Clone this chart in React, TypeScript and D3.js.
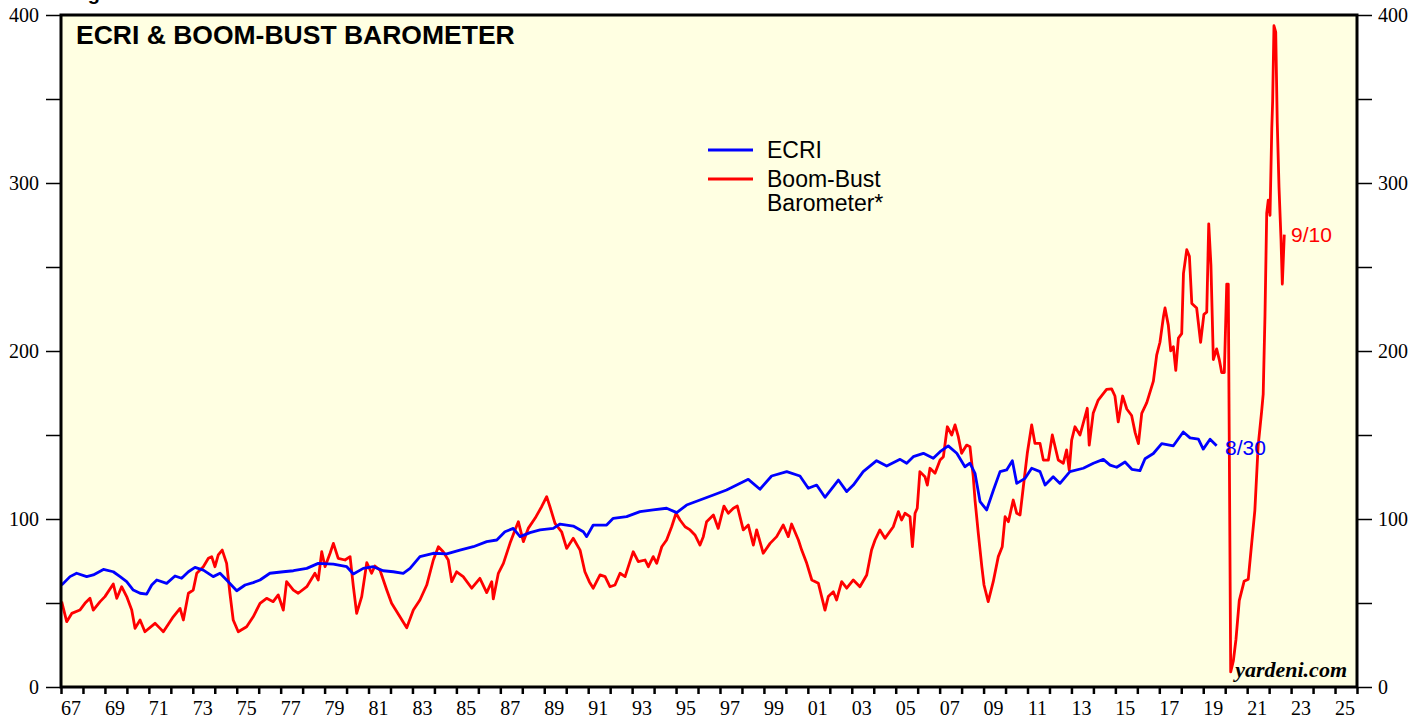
import React, { useRef, useEffect } from 'react';
import * as d3 from 'd3';

// ECRI weekly leading index, [year, value]
const ecri: [number, number][] = [
  [1967.03, 60.7], [1967.41, 65.7], [1967.71, 67.7], [1968.17, 65.7], [1968.47, 66.7], [1968.93, 70],
  [1969.38, 68.6], [1969.69, 65.7], [1969.99, 62.7], [1970.29, 57.7], [1970.6, 55.8], [1970.9, 55.3],
  [1971.13, 60.7], [1971.36, 63.7], [1971.81, 61.7], [1972.19, 66.1], [1972.49, 64.7], [1972.8, 68.6],
  [1973.1, 71.2], [1973.48, 69.6], [1973.93, 65.7], [1974.24, 67.7], [1974.54, 63.7], [1975.0, 57.3],
  [1975.38, 60.7], [1975.75, 62.1], [1976.06, 63.7], [1976.51, 67.7], [1977.12, 68.6], [1977.58, 69.2],
  [1978.19, 70.6], [1978.71, 73.6], [1979.4, 73.2], [1980.01, 71.6], [1980.31, 67.3], [1980.76, 70.6],
  [1981.22, 71.6], [1981.67, 69.2], [1982.13, 68.6], [1982.58, 67.7], [1982.89, 70.6], [1983.34, 77.6],
  [1983.95, 79.6], [1984.56, 79.2], [1985.16, 81.5], [1985.77, 83.5], [1986.38, 86.5], [1986.84, 87.5],
  [1987.21, 92.4], [1987.59, 94.4], [1987.9, 89.5], [1988.35, 91.9], [1988.81, 93.5], [1989.41, 94.4],
  [1989.72, 97], [1990.32, 95.8], [1990.78, 92.4], [1990.93, 89.5], [1991.23, 96.4], [1991.84, 96.4],
  [1992.14, 100.4], [1992.75, 101.4], [1993.36, 104.4], [1993.96, 105.4], [1994.57, 106.4], [1995.03, 103.8],
  [1995.48, 108.3], [1996.09, 111.3], [1996.7, 114.3], [1997.3, 117.3], [1997.76, 120.2], [1998.29, 123.6],
  [1998.82, 117.7], [1999.35, 125.6], [2000.04, 128.2], [2000.64, 125.6], [2001.02, 118.3], [2001.4, 120.2],
  [2001.78, 112.9], [2002.39, 123.2], [2002.77, 116.3], [2003.07, 120.2], [2003.52, 128.2], [2004.13, 134.7],
  [2004.59, 131.5], [2005.2, 135.5], [2005.5, 133.2], [2005.8, 137.1], [2006.26, 139.1], [2006.71, 136.1],
  [2007.02, 140.1], [2007.39, 143.5], [2007.78, 139.1], [2008.15, 131.1], [2008.38, 133.2], [2008.61, 127.2],
  [2008.84, 110.3], [2009.14, 105.4], [2009.45, 117.3], [2009.75, 128.2], [2010.05, 129.2], [2010.31, 134.7],
  [2010.51, 121.2], [2010.89, 124.2], [2011.19, 130.2], [2011.57, 128.2], [2011.8, 120.2], [2012.17, 125.2],
  [2012.48, 121.2], [2012.93, 128.2], [2013.54, 130.2], [2014.0, 133.2], [2014.45, 135.5], [2014.76, 132.1],
  [2015.06, 130.8], [2015.44, 133.9], [2015.75, 129.6], [2016.12, 128.8], [2016.35, 135.9], [2016.73, 139],
  [2017.11, 144.9], [2017.64, 143.6], [2018.09, 151.8], [2018.4, 148.3], [2018.78, 147.5], [2019.0, 141.6],
  [2019.31, 147.5], [2019.61, 143.6],
];

// Boom-Bust Barometer, [year, value]
const bbb: [number, number][] = [
  [1967.03, 50.8], [1967.26, 38.9], [1967.49, 43.8], [1967.86, 45.8], [1968.09, 49.8], [1968.32, 52.8],
  [1968.47, 45.8], [1968.78, 50.8], [1969.0, 53.8], [1969.38, 61.3], [1969.54, 52.8], [1969.76, 59.7],
  [1969.99, 53.8], [1970.22, 45.8], [1970.37, 34.9], [1970.6, 39.9], [1970.82, 32.9], [1971.28, 37.9],
  [1971.51, 34.9], [1971.66, 32.9], [1972.11, 41.8], [1972.42, 46.8], [1972.57, 39.9], [1972.8, 55.8],
  [1973.02, 57.7], [1973.18, 67.7], [1973.48, 71.6], [1973.71, 76.6], [1973.86, 77.6], [1974.01, 71.6],
  [1974.16, 78.6], [1974.34, 81.5], [1974.54, 73.6], [1974.69, 55.8], [1974.84, 39.9], [1975.07, 32.9],
  [1975.45, 35.9], [1975.75, 41.8], [1976.06, 49.8], [1976.36, 52.8], [1976.66, 50.8], [1976.89, 54.8],
  [1977.12, 45.8], [1977.27, 62.7], [1977.58, 57.7], [1977.8, 55.8], [1978.19, 59.7], [1978.56, 67.7],
  [1978.71, 63.7], [1978.87, 80.5], [1979.02, 71.6], [1979.25, 79.6], [1979.4, 85.5], [1979.62, 76.6],
  [1979.93, 75.6], [1980.16, 77.6], [1980.31, 59.7], [1980.46, 43.8], [1980.69, 53.8], [1980.92, 74],
  [1981.14, 67.7], [1981.29, 72], [1981.52, 69.6], [1981.83, 57.7], [1982.05, 49.8], [1982.43, 41.8],
  [1982.74, 35.3], [1983.04, 45.8], [1983.34, 51.8], [1983.65, 60.7], [1983.95, 75.6], [1984.18, 83.5],
  [1984.4, 80.5], [1984.63, 75.6], [1984.79, 62.7], [1985.01, 68.6], [1985.31, 65.7], [1985.7, 58.8],
  [1986.07, 64.7], [1986.38, 56.2], [1986.61, 62.7], [1986.68, 52.4], [1986.91, 67.7], [1987.14, 73.6],
  [1987.44, 85.5], [1987.67, 93.5], [1987.82, 98.4], [1988.05, 86.5], [1988.27, 94.4], [1988.58, 100.4],
  [1988.88, 107.3], [1989.11, 113.3], [1989.26, 107.3], [1989.49, 97.4], [1989.79, 92.4], [1990.02, 82.5],
  [1990.32, 88.5], [1990.63, 81.5], [1990.85, 68.6], [1991.05, 62.7], [1991.23, 58.8], [1991.54, 66.7],
  [1991.77, 65.7], [1991.99, 59.7], [1992.22, 60.7], [1992.45, 67.7], [1992.68, 65.7], [1992.9, 74.6],
  [1993.05, 80.5], [1993.28, 74.6], [1993.59, 75.6], [1993.74, 71.6], [1993.96, 77.6], [1994.12, 73.6],
  [1994.35, 83.5], [1994.57, 87.5], [1994.8, 95.4], [1995.0, 103.4], [1995.18, 99.4], [1995.41, 95.4],
  [1995.64, 93.5], [1995.86, 90.5], [1996.09, 84.5], [1996.24, 89.5], [1996.39, 98.4], [1996.7, 102.4],
  [1996.92, 94.4], [1997.18, 107.7], [1997.38, 103.4], [1997.61, 106.4], [1997.79, 107.7], [1998.06, 93.5],
  [1998.29, 96.4], [1998.52, 84.5], [1998.67, 93.5], [1998.97, 79.6], [1999.28, 85.5], [1999.58, 89.5],
  [1999.88, 96.4], [2000.11, 89.5], [2000.26, 97], [2000.57, 87.5], [2000.72, 81.5], [2000.95, 73.6],
  [2001.18, 63.7], [2001.48, 61.7], [2001.78, 45.8], [2001.93, 53.8], [2002.16, 56.7], [2002.31, 51.8],
  [2002.54, 62.7], [2002.77, 58.8], [2003.07, 63.7], [2003.37, 59.7], [2003.68, 66.7], [2003.9, 81.5],
  [2004.06, 87.5], [2004.28, 93.5], [2004.51, 88.5], [2004.89, 95.4], [2005.12, 104.4], [2005.27, 99.4],
  [2005.42, 103.4], [2005.65, 101.4], [2005.76, 83.5], [2005.88, 103.4], [2005.98, 106.4], [2006.1, 128.2],
  [2006.33, 125.2], [2006.44, 120.2], [2006.56, 130.2], [2006.79, 127.2], [2007.02, 135.1], [2007.17, 137.1],
  [2007.35, 154.9], [2007.55, 150], [2007.7, 156], [2007.85, 149], [2008.0, 139.1], [2008.23, 144],
  [2008.38, 143], [2008.53, 125.2], [2008.61, 111.3], [2008.76, 91.5], [2008.92, 71.6], [2009.02, 60.7],
  [2009.21, 50.8], [2009.44, 62.7], [2009.67, 77.6], [2009.85, 83.5], [2009.98, 101.4], [2010.13, 98.4],
  [2010.35, 111.3], [2010.51, 103.4], [2010.66, 102.4], [2010.81, 119.2], [2010.99, 139.1], [2011.19, 156],
  [2011.34, 145], [2011.57, 145], [2011.72, 135.1], [2011.95, 135.1], [2012.13, 150], [2012.4, 135.1],
  [2012.63, 133.2], [2012.78, 141.1], [2012.9, 129.2], [2013.01, 147], [2013.16, 154.9], [2013.39, 150],
  [2013.72, 165.9], [2013.81, 144], [2013.99, 162.9], [2014.22, 170.8], [2014.6, 177.2], [2014.83, 177.5],
  [2014.98, 173.2], [2015.13, 157.8], [2015.33, 173.2], [2015.52, 165.5], [2015.74, 161.6], [2015.9, 151.4],
  [2016.05, 144.9], [2016.2, 162.9], [2016.43, 169.3], [2016.58, 175.7], [2016.73, 182.1], [2016.88, 197.5],
  [2017.03, 205.2], [2017.19, 220.5], [2017.26, 225.6], [2017.41, 215.4], [2017.52, 200.1], [2017.64, 202.6],
  [2017.75, 188.5], [2017.87, 207.7], [2018.02, 210.3], [2018.1, 246.2], [2018.25, 260.3], [2018.37, 256.4],
  [2018.48, 228.3], [2018.7, 225.6], [2018.88, 205.2], [2019.03, 221.8], [2019.16, 223.1], [2019.25, 275.7],
  [2019.35, 251.3], [2019.46, 194.9], [2019.61, 201.3], [2019.73, 194.9], [2019.84, 187.2], [2019.96, 187.2],
  [2020.07, 239.8], [2020.14, 239.8], [2020.25, 9], [2020.37, 15.5], [2020.49, 28.3], [2020.64, 51.4],
  [2020.86, 62.9], [2021.05, 64.2], [2021.2, 84.7], [2021.35, 105.2], [2021.5, 143.6], [2021.66, 164.2],
  [2021.73, 174.4], [2021.81, 220.5], [2021.89, 282.1], [2021.96, 289.8], [2022.04, 280.8], [2022.12, 332.1],
  [2022.16, 348.8], [2022.22, 393.6], [2022.3, 389.8], [2022.37, 335.9], [2022.45, 297.4], [2022.54, 266.7],
  [2022.6, 239.8], [2022.69, 269.3],
];

const yTicks = [0, 50, 100, 150, 200, 250, 300, 350, 400];
const yLabels = [0, 100, 200, 300, 400];
const yearTicks = d3.range(1967, 2027);
const yearLabels = d3.range(1967, 2026, 2);

const W = 1427, H = 721;
const left = 61, right = 1357, top = 15, bottom = 687;

const serif = '"Liberation Serif", "Times New Roman", serif';
const sans = '"Liberation Sans", Arial, sans-serif';

const App = () => {
  const ref = useRef<SVGSVGElement>(null);

  useEffect(() => {
    const svg = d3.select(ref.current);
    svg.selectAll('*').remove();

    const x = d3.scaleLinear().domain([1967, 2026]).range([left, right]);
    const y = d3.scaleLinear().domain([0, 400]).range([bottom, top]);

    // plot background
    svg.append('rect')
      .attr('x', left).attr('y', top)
      .attr('width', right - left).attr('height', bottom - top)
      .attr('fill', '#ffffe2');

    // heading above the frame, only its descender shows
    svg.append('text')
      .attr('x', 70).attr('y', 0)
      .attr('font-family', sans).attr('font-weight', 'bold').attr('font-size', 20)
      .text('Fig');

    const lab = (d: d3.NumberValue) => (yLabels.includes(+d) ? String(d) : '');

    const la = svg.append('g').attr('transform', `translate(${left},0)`)
      .call(d3.axisLeft(y).tickValues(yTicks).tickSize(15).tickPadding(7).tickFormat(lab));
    const ra = svg.append('g').attr('transform', `translate(${right},0)`)
      .call(d3.axisRight(y).tickValues(yTicks).tickSize(15).tickPadding(6).tickFormat(lab));
    [la, ra].forEach(g => {
      g.select('.domain').remove();
      g.selectAll('line').attr('stroke', '#000').attr('stroke-width', 1.5);
      g.selectAll('text').attr('font-family', serif).attr('font-size', 20).attr('fill', '#000');
    });

    const ba = svg.append('g').attr('transform', `translate(0,${bottom})`)
      .call(d3.axisBottom(x).tickValues(yearTicks).tickSize(7).tickFormat(() => ''));
    ba.select('.domain').remove();
    ba.selectAll('line').attr('stroke', '#000').attr('stroke-width', 2.5);

    svg.append('g').selectAll('text').data(yearLabels).join('text')
      .attr('x', d => x(d + 0.5) - 1).attr('y', 715)
      .attr('text-anchor', 'middle')
      .attr('font-family', serif).attr('font-size', 20)
      .text(d => String(d % 100).padStart(2, '0'));

    const clip = svg.append('clipPath').attr('id', 'plotclip');
    clip.append('rect').attr('x', left).attr('y', top).attr('width', right - left).attr('height', bottom - top);

    const line = d3.line<[number, number]>().x(d => x(d[0])).y(d => y(d[1]));
    const lines = svg.append('g').attr('clip-path', 'url(#plotclip)');
    lines.append('path').datum(bbb).attr('d', line)
      .attr('fill', 'none').attr('stroke', '#ff0000').attr('stroke-width', 2.8).attr('stroke-linejoin', 'round');
    lines.append('path').datum(ecri).attr('d', line)
      .attr('fill', 'none').attr('stroke', '#0000ff').attr('stroke-width', 2.8).attr('stroke-linejoin', 'round');

    // border
    svg.append('rect')
      .attr('x', left).attr('y', top)
      .attr('width', right - left).attr('height', bottom - top)
      .attr('fill', 'none').attr('stroke', '#000').attr('stroke-width', 3);

    // title
    svg.append('text')
      .attr('x', 76).attr('y', 44)
      .attr('font-family', sans).attr('font-weight', 'bold').attr('font-size', 26.5)
      .text('ECRI & BOOM-BUST BAROMETER');

    // legend
    const lg = svg.append('g').attr('font-family', sans).attr('font-size', 23);
    lg.append('line').attr('x1', 708).attr('x2', 753).attr('y1', 150).attr('y2', 150)
      .attr('stroke', '#0000ff').attr('stroke-width', 3);
    lg.append('text').attr('x', 767).attr('y', 158).text('ECRI');
    lg.append('line').attr('x1', 708).attr('x2', 753).attr('y1', 179).attr('y2', 179)
      .attr('stroke', '#ff0000').attr('stroke-width', 3);
    lg.append('text').attr('x', 767).attr('y', 187).text('Boom-Bust');
    lg.append('text').attr('x', 767).attr('y', 211).text('Barometer*');

    // end labels
    svg.append('text').attr('x', 1225).attr('y', 455)
      .attr('font-family', sans).attr('font-size', 21).attr('fill', '#0000ff').text('8/30');
    svg.append('text').attr('x', 1291).attr('y', 242)
      .attr('font-family', sans).attr('font-size', 21).attr('fill', '#ff0000').text('9/10');

    // source
    svg.append('text').attr('x', 1347).attr('y', 677).attr('text-anchor', 'end')
      .attr('font-family', serif).attr('font-weight', 'bold').attr('font-style', 'italic').attr('font-size', 22)
      .text('yardeni.com');
  }, []);

  return (
    <svg ref={ref} width={W} height={H}
      style={{ position: 'absolute', left: 0, top: 0, background: '#fff' }} />
  );
};

export default App;
